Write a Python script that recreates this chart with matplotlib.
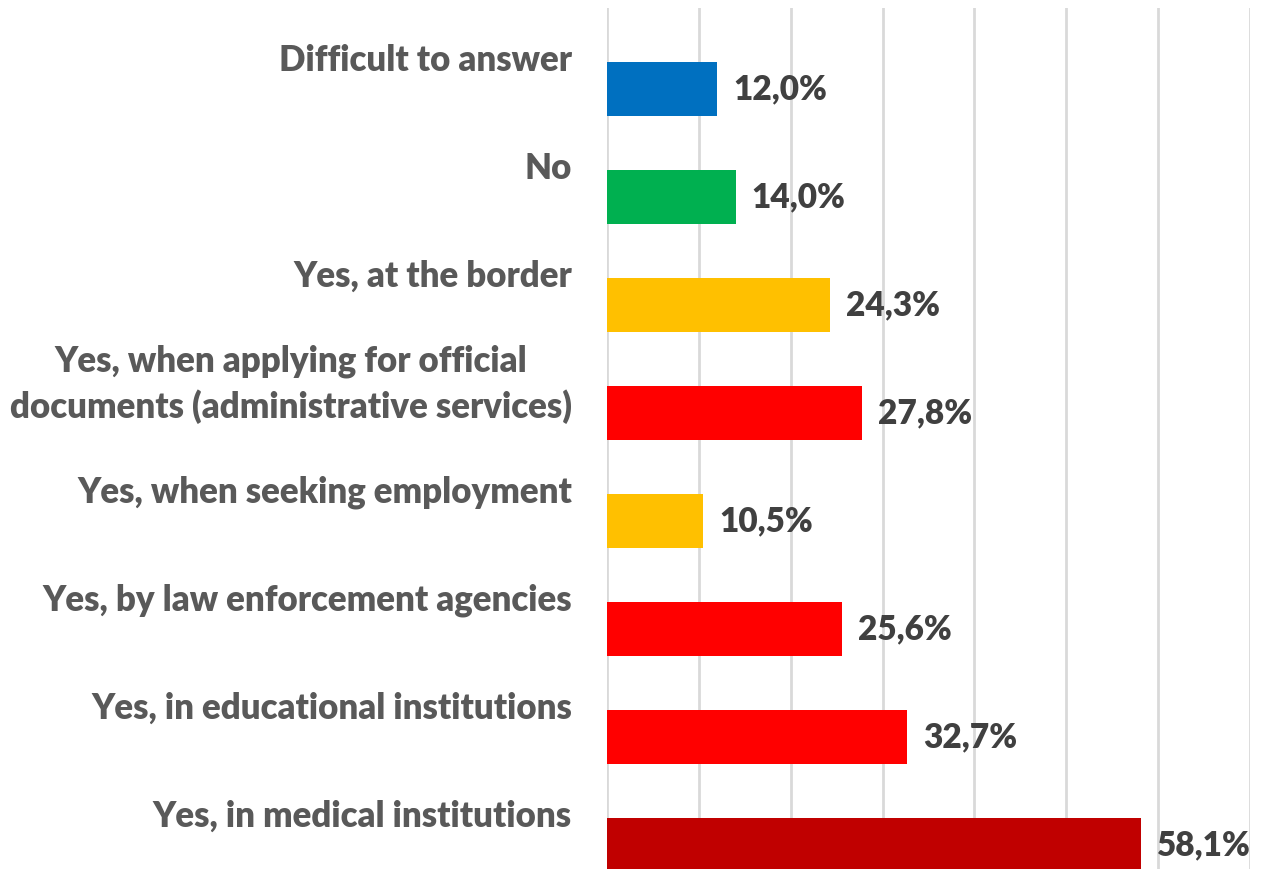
import matplotlib.pyplot as plt
from matplotlib.transforms import offset_copy

categories = ["Difficult to answer", "No", "Yes, at the border",
              "Yes, when applying for official\ndocuments (administrative services)",
              "Yes, when seeking employment", "Yes, by law enforcement agencies",
              "Yes, in educational institutions", "Yes, in medical institutions"]
values = [12.0, 14.0, 24.3, 27.8, 10.5, 25.6, 32.7, 58.1]
colors = ["#0070C0", "#00B050", "#FFC000", "#FF0000",
          "#FFC000", "#FF0000", "#FF0000", "#C00000"]

plt.rcParams['font.family'] = ['Lato', 'DejaVu Sans']

fig = plt.figure(figsize=(12.61, 8.69), dpi=100)
ax = fig.add_axes([607/1261, 0, 643/1261, 861/869])

y = list(range(len(values)))
ax.barh(y, values, height=0.5, color=colors, zorder=3)
ax.set_xlim(0, 70)
ax.set_ylim(7.22, -0.75)
ax.set_xticks(range(0, 71, 10))
ax.grid(axis='x', color='#d9d9d9', linewidth=2, zorder=0)
ax.tick_params(left=False, bottom=False, labelleft=False, labelbottom=False)
for s in ax.spines.values():
    s.set_visible(False)

# value labels just right of each bar
val_tr = offset_copy(ax.transData, fig=fig, x=16, y=0, units='dots')
for i, v in enumerate(values):
    ax.text(v, i, f"{v:.1f}%".replace('.', ','), transform=val_tr,
            ha='left', va='center', fontsize=24, fontweight='heavy',
            color='#404040', clip_on=False)

# category labels sit above the bar centres
cat_tr = offset_copy(ax.transData, fig=fig, x=-35, y=29, units='dots')
for i, c in enumerate(categories):
    ax.text(0, i, c, transform=cat_tr, ha='right', va='center',
            fontsize=25, fontweight='heavy', color='#595959',
            linespacing=1.38, multialignment='center')

fig.savefig('out.png', dpi=100)
